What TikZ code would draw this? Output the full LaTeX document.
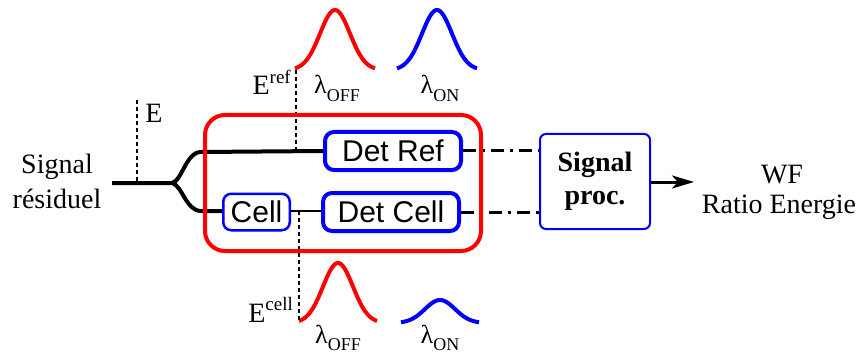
\documentclass[tikz,border=0pt]{standalone}
\usepackage{fontspec}
\setmainfont{Liberation Serif}
\newfontfamily\arialf{Liberation Sans}
\usetikzlibrary{arrows.meta}
\begin{document}
\begin{tikzpicture}[x=1pt,y=-1pt,
  blk/.style={line width=4pt,black},
  edash/.style={line width=2pt,dash pattern=on 4pt off 3pt},
  dashdot/.style={line width=3pt,dash pattern=on 13pt off 6pt on 3pt off 6pt},
  gauss/.style={line width=4pt},
  redbox/.style={draw=red,line width=4pt,rounded corners=20pt,inner sep=0pt},
  detbox/.style={draw=blue,line width=4pt,rounded corners=9pt,inner sep=0pt,
    minimum width=136pt,minimum height=38pt,font=\arialf\fontsize{30}{36}\selectfont},
  cellbox/.style={draw=blue,line width=2.5pt,rounded corners=8pt,inner sep=0pt,
    minimum width=66.5pt,minimum height=36.5pt,font=\arialf\fontsize{30}{36}\selectfont},
  spbox/.style={draw=blue,line width=2pt,rounded corners=6pt,inner sep=0pt,
    minimum width=110pt,minimum height=95pt,align=center,
    font=\bfseries\fontsize{28}{33}\selectfont},
  txt/.style={inner sep=0pt,anchor=base,font=\fontsize{28}{34}\selectfont},
  lam/.style={inner sep=0pt,anchor=base,font=\fontsize{26}{30}\selectfont}
]
\useasboundingbox (0,0) rectangle (866,358);

% blue boxes
\node[detbox] (detref) at (393,151) {Det Ref};
\node[detbox] (detcell) at (391,212) {Det Cell};
\node[cellbox] (cell) at (256.5,212) {Cell};
\node[spbox] (sp) at (595,181.5) {Signal\\[0pt]proc.};

% input text
\node[txt] (sig1) at (57,173) {Signal};
\node[txt] (sig2) at (57,208) {résiduel};

% input line and split
\coordinate (in) at (112,183);
\coordinate (split) at (172,183);
\draw[blk] (in) -- (split) .. controls (182,181) and (186,152) .. (201,152) -- (detref.west);
\draw[blk] (split) .. controls (182,185) and (186,211) .. (201,211) -- (cell.west |- 0,211);
\draw[blk,line width=2.5pt] (cell.east |- 0,211) -- (detcell.west |- 0,211);

% E probe
\coordinate (etop) at (137,100);
\coordinate (ebot) at (137,183);
\draw[edash] (etop) -- (ebot);
\node[txt] (elab) at (154,123) {E};

% top gaussians
\draw[gauss,red] plot[domain=-40:40,samples=61,smooth] ({335+\x},{70-60*exp(-(\x*\x)/450)});
\draw[gauss,blue] plot[domain=-40:40,samples=61,smooth] ({437+\x},{70-60*exp(-(\x*\x)/450)});
\coordinate (gref) at (296,70);
\coordinate (rref) at (296,152);
\draw[edash] (gref) -- (rref);
\node[txt,anchor=base east] (eref) at (291,95) {E\raisebox{0.42em}{\fontsize{19}{19}\selectfont ref}};
\node[lam] (loff1) at (337,94) {λ\raisebox{-0.28em}{\fontsize{18}{18}\selectfont OFF}};
\node[lam] (lon1) at (440,94) {λ\raisebox{-0.28em}{\fontsize{18}{18}\selectfont ON}};

% bottom gaussians
\draw[gauss,red] plot[domain=-39:39,samples=61,smooth] ({338+\x},{323-60*exp(-(\x*\x)/450)});
\draw[gauss,blue] plot[domain=-39:39,samples=61,smooth] ({440+\x},{323-23*exp(-(\x*\x)/450)});
\coordinate (rcell) at (299,211);
\coordinate (gcell) at (299,323);
\draw[edash] (rcell) -- (gcell);
\node[txt,anchor=base east] (ecell) at (293,322) {E\raisebox{0.42em}{\fontsize{19}{19}\selectfont cell}};
\node[lam] (loff2) at (338,343) {λ\raisebox{-0.28em}{\fontsize{18}{18}\selectfont OFF}};
\node[lam] (lon2) at (440,343) {λ\raisebox{-0.28em}{\fontsize{18}{18}\selectfont ON}};

% dash-dot links
\draw[dashdot] (detref.east) -- (sp.west |- detref.east);
\draw[dashdot] (detcell.east) -- (sp.west |- detcell.east);

% red enclosure (drawn over the lines)
\node[redbox,minimum width=276pt,minimum height=136pt] (box) at (343,183) {};

% output
\coordinate (out) at (694,182);
\draw[line width=3pt,-{Stealth[length=22pt,width=13pt,inset=6pt]}] (sp.east |- out) -- (out);
\node[txt] (wf) at (782,183) {WF};
\node[txt] (ratio) at (779,213) {Ratio Energie};
\end{tikzpicture}
\end{document}
